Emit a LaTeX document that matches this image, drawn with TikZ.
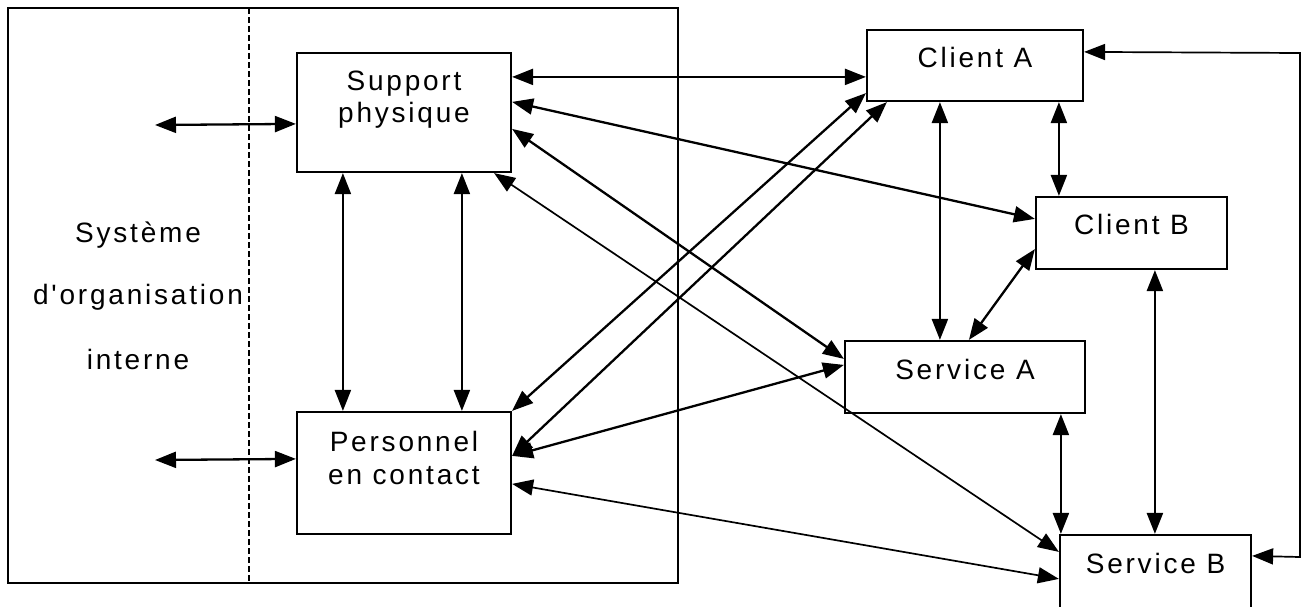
\documentclass[tikz,border=0pt]{standalone}
\usepackage{fontspec}
\newfontfamily\lblfont[LetterSpace=10]{Liberation Sans}
\usetikzlibrary{arrows.meta,calc}
\begin{document}
\begin{tikzpicture}[x=1pt,y=-1pt,
  box/.style={draw, line width=2.2pt, rectangle, inner sep=0pt},
  lbl/.style={font=\lblfont\fontsize{28}{33}\selectfont, anchor=base, inner sep=0pt},
  link/.style={line width=2.3pt, {Triangle[length=21pt,width=16pt]}-{Triangle[length=21pt,width=16pt]}},
  thinlink/.style={link, line width=1.7pt}]
\useasboundingbox (0,0) rectangle (1304,606);
\clip (0,0) rectangle (1304,606);
% outer frame and dashed separator
\draw[line width=1.8pt] (8,8) rectangle (678,583);
\coordinate (dtop) at (249,8);
\coordinate (dbot) at (249,583);
\draw[line width=1.5pt, dash pattern=on 6pt off 3pt] (dtop) -- (dbot);
% left labels
\node[lbl] (t1) at (138,242) {Système};
\node[lbl] (t2) at (138,304) {d'organisation};
\node[lbl] (t3) at (138,369) {interne};
% boxes
\node[box, minimum width=214pt, minimum height=119pt] (sp) at (404,112.5) {};
\node[lbl] (sp1) at (404,90) {Support};
\node[lbl] (sp2) at (404,122) {physique};
\node[box, minimum width=214pt, minimum height=122pt] (pc) at (404,473) {};
\node[lbl] (pc1) at (404,451) {Personnel};
\node[lbl] (pc2) at (404,484) {en contact};
\node[box, minimum width=216pt, minimum height=71pt] (ca) at (975,65.5) {};
\node[lbl] (cat) at (975,67) {Client A};
\node[box, minimum width=191pt, minimum height=72pt] (cb) at (1131.5,233) {};
\node[lbl] (cbt) at (1131.5,234) {Client B};
\node[box, minimum width=240pt, minimum height=72pt] (sa) at (965,377) {};
\node[lbl] (sat) at (965,379) {Service A};
\node[box, minimum width=191pt, minimum height=80pt] (sb) at (1155.5,575) {};
\node[lbl] (sbt) at (1155.5,573) {Service B};
% free ends on the left
\coordinate (l1) at (155,125);
\coordinate (l2) at (155,460);
\draw[link] (l1) -- ($(sp.north west)+(0,72)$);
\draw[link] (l2) -- ($(pc.north west)+(0,48)$);
% support <-> personnel
\draw[link] ($(sp.south west)+(47,0)$) -- ($(pc.north west)+(47,0)$);
\draw[link] ($(sp.south west)+(166,0)$) -- ($(pc.north west)+(166,0)$);
% support links
\draw[link] ($(sp.north east)+(0,25)$) -- ($(ca.north west)+(0,48)$);
\draw[link] ($(sp.north east)+(0,50)$) -- ($(cb.north west)+(0,23)$);
\draw[link] ($(sp.north east)+(0,77)$) -- ($(sa.north west)+(0,19)$);
\draw[thinlink] ($(sp.south east)+(-18,0)$) -- ($(sb.north west)+(0,18)$);
% personnel links
\draw[link] (pc.north east) -- ($(ca.south west)+(0,-9)$);
\draw[link] ($(pc.north east)+(0,45)$) -- ($(ca.south west)+(21,0)$);
\draw[link] ($(pc.north east)+(0,45)$) -- ($(sa.north west)+(0,25)$);
\draw[thinlink] ($(pc.north east)+(0,73)$) -- ($(sb.north west)+(0,45)$);
% right cluster
\draw[link] ($(ca.south west)+(74,0)$) -- ($(sa.north west)+(96,0)$);
\draw[link] ($(ca.south west)+(193,0)$) -- ($(cb.north west)+(24,0)$);
\draw[link] ($(cb.south west)+(120,0)$) -- ($(sb.north west)+(96,0)$);
\draw[link] ($(sa.south west)+(217,0)$) -- ($(sb.north west)+(2,0)$);
\draw[link] ($(cb.south west)+(0,-21)$) -- ($(sa.north west)+(125,0)$);
% loop on the far right
\coordinate (r1) at (1300,53);
\coordinate (r2) at (1300,557);
\draw[thinlink] ($(ca.north east)+(0,23)$) -- (r1) -- (r2) -- ($(sb.north east)+(0,22)$);
\end{tikzpicture}
\end{document}
